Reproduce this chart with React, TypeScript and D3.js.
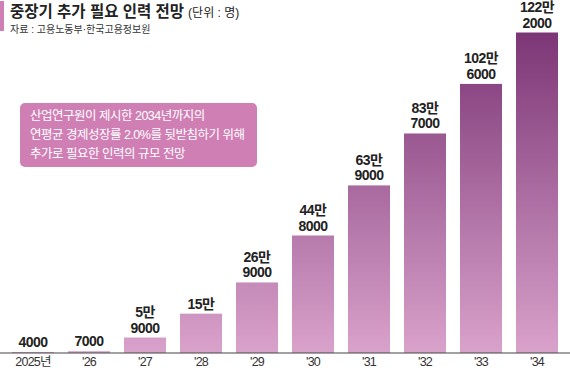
import React from 'react';
import * as d3 from "d3";

const years = ['2025년', "'26", "'27", "'28", "'29", "'30", "'31", "'32", "'33", "'34"];
const values = [4000, 7000, 59000, 150000, 269000, 448000, 639000, 837000, 1026000, 1222000];
const valueLines = [
    ['4000'], ['7000'], ['5만', '9000'], ['15만'], ['26만', '9000'], ['44만', '8000'],
    ['63만', '9000'], ['83만', '7000'], ['102만', '6000'], ['122만', '2000']
];
const noteLines = [
    '산업연구원이 제시한 2034년까지의',
    '연평균 경제성장률 2.0%를 뒷받침하기 위해',
    '추가로 필요한 인력의 규모 전망'
];

const width = 570, height = 372;
const baseline = 353;
const font = "'Liberation Sans', 'Noto Sans CJK KR', sans-serif";

const App = () => {
    const x = d3.scaleBand()
        .domain(years)
        .range([5, 565])
        .paddingInner(0.25)
        .paddingOuter(0.125);

    const y = d3.scaleLinear()
        .domain([0, 1222000])
        .range([baseline, 32.5]);

    return (
        <svg width={width} height={height} style={{ position: 'absolute', left: 0, top: 0 }}>
            <defs>
                <linearGradient id="bar-gradient" gradientUnits="userSpaceOnUse" x1="0" y1={y(1222000)} x2="0" y2={baseline}>
                    <stop offset="0%" stopColor="#7c3676" />
                    <stop offset="100%" stopColor="#d9a2cb" />
                </linearGradient>
            </defs>
            <rect x={0} y={0} width={width} height={height} fill="#fff" />

            <rect x={0} y={1} width={4} height={30} fill="#d07fb5" />
            <text x={10} y={17} fontFamily={font} fontSize={15.5} fontWeight="bold" fill="#222">
                중장기 추가 필요 인력 전망
                <tspan fontSize={12} fontWeight="normal" dx={4}>(단위 : 명)</tspan>
            </text>
            <text x={10} y={33} fontFamily={font} fontSize={10} fill="#333">자료 : 고용노동부·한국고용정보원</text>

            {values.map((v, i) => (
                <rect key={years[i]} x={x(years[i])} y={y(v)} width={x.bandwidth()}
                    height={baseline - y(v)} fill="url(#bar-gradient)" />
            ))}

            {values.map((v, i) => {
                const lines = valueLines[i];
                const cx = x(years[i]) + x.bandwidth() / 2;
                return (
                    <text key={'l' + i} x={cx} textAnchor="middle" fontFamily={font}
                        fontSize={14} fontWeight="bold" fill="#222" letterSpacing={-0.5}>
                        {lines.map((t, j) => (
                            <tspan key={j} x={cx} y={y(v) - 5 - (lines.length - 1 - j) * 15.5}>{t}</tspan>
                        ))}
                    </text>
                );
            })}

            <line x1={0} x2={width} y1={baseline} y2={baseline} stroke="#444" strokeWidth={1} />
            {years.map(yr => (
                <text key={'t' + yr} x={x(yr) + x.bandwidth() / 2} y={366} textAnchor="middle"
                    fontFamily={font} fontSize={12.5} fill="#333" letterSpacing={-0.8}>{yr}</text>
            ))}

            <rect x={20} y={103} width={237} height={64} rx={5} fill="#d07fb5" />
            {noteLines.map((t, i) => (
                <text key={'n' + i} x={30} y={120 + i * 19} fontFamily={font} fontSize={12.5}
                    fill="#fff" letterSpacing={-0.5}>{t}</text>
            ))}
        </svg>
    );
};

export default App;
